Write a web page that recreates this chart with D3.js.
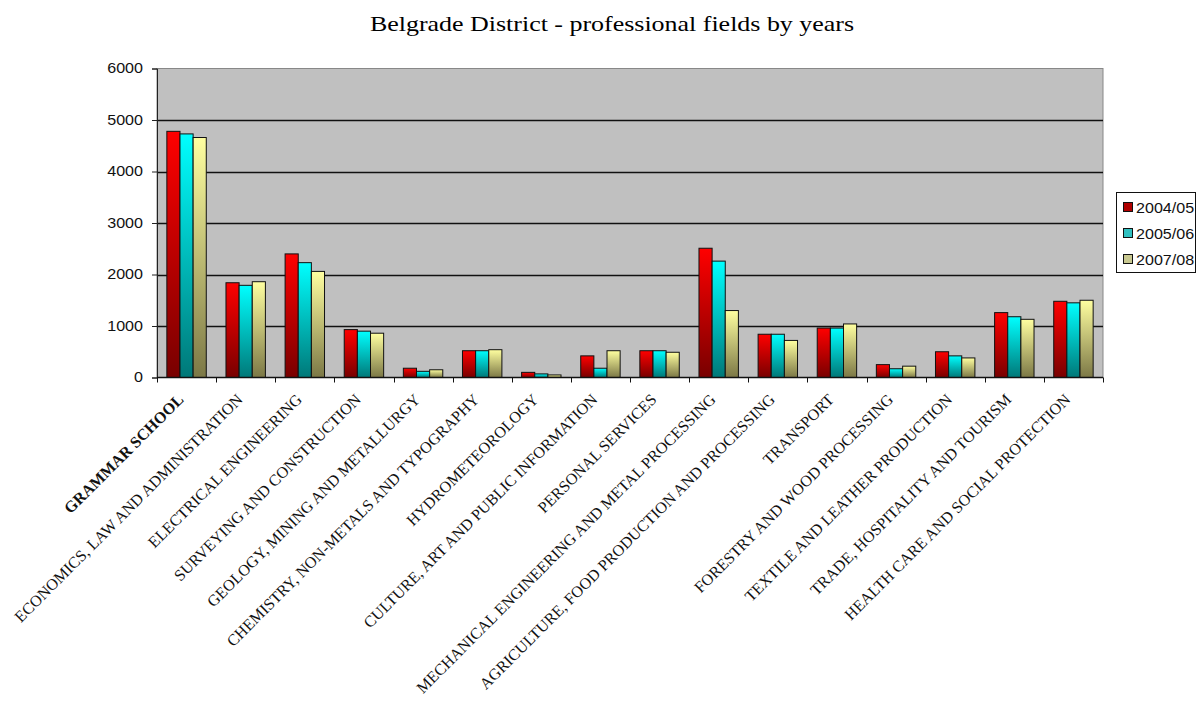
<!DOCTYPE html>
<html><head><meta charset="utf-8">
<script src="https://cdn.jsdelivr.net/npm/d3@7/dist/d3.min.js"></script>
<style>body{margin:0;background:#fff}svg{display:block}</style>
</head><body>
<svg id="chart" width="1196" height="702"></svg>
<script>
const categories = ["GRAMMAR SCHOOL","ECONOMICS, LAW AND ADMINISTRATION","ELECTRICAL ENGINEERING","SURVEYING AND CONSTRUCTION","GEOLOGY, MINING AND  METALLURGY","CHEMISTRY, NON-METALS AND TYPOGRAPHY","HYDROMETEOROLOGY","CULTURE, ART AND PUBLIC INFORMATION","PERSONAL SERVICES","MECHANICAL ENGINEERING AND METAL PROCESSING","AGRICULTURE, FOOD PRODUCTION AND PROCESSING","TRANSPORT","FORESTRY AND WOOD PROCESSING","TEXTILE AND LEATHER PRODUCTION","TRADE, HOSPITALITY AND TOURISM","HEALTH CARE AND SOCIAL PROTECTION"];
const seriesNames = ["2004/05","2005/06","2007/08"];
const values2004 = [4780,1840,2400,930,180,520,100,420,520,2510,840,960,250,500,1260,1480];
const values2005 = [4730,1790,2230,900,120,520,70,180,520,2260,840,960,170,420,1180,1450];
const values2007 = [4660,1860,2060,860,150,540,50,520,490,1300,720,1040,220,380,1130,1500];
const yTicks = [0,1000,2000,3000,4000,5000,6000];
const title = "Belgrade District - professional fields by years";

const seriesValues = [values2004, values2005, values2007];
const topColors = ["#ff0000","#00ffff","#ffffa0"];
const bottomColors = ["#780000","#007878","#7c7846"];
const swatchColors = ["#b00000","#30c0c0","#c8c890"];

const svg = d3.select("#chart");
const L = 157, R = 1103, T = 68.5, B = 377.5;

const x0 = d3.scaleBand().domain(categories).range([L, R]).paddingInner(0).paddingOuter(0);
const x1 = d3.scaleBand().domain(seriesNames).range([0, x0.bandwidth()]).paddingInner(0).paddingOuter(0.75);
const y = d3.scaleLinear().domain([0, 6000]).range([B, T]);

const defs = svg.append("defs");
seriesNames.forEach((s, i) => {
  const g = defs.append("linearGradient").attr("id", "g" + i)
    .attr("x1", 0).attr("y1", 0).attr("x2", 0).attr("y2", 1);
  g.append("stop").attr("offset", "0%").attr("stop-color", topColors[i]);
  g.append("stop").attr("offset", "100%").attr("stop-color", bottomColors[i]);
});

// title
svg.append("text").attr("transform", "translate(612,31) scale(1.18,1)").attr("text-anchor", "middle")
  .attr("font-family", "Liberation Serif").attr("font-size", 22).attr("fill", "#000").text(title);

// plot background
svg.append("rect").attr("x", L).attr("y", T).attr("width", R - L).attr("height", B - T)
  .attr("fill", "#c0c0c0").attr("stroke", "#888").attr("stroke-width", 1);

// gridlines
svg.append("g").selectAll("line").data(yTicks.filter(d => d > 0 && d < 6000)).join("line")
  .attr("x1", L).attr("x2", R).attr("y1", d => Math.round(y(d)) + 0.5).attr("y2", d => Math.round(y(d)) + 0.5)
  .attr("stroke", "#111").attr("stroke-width", 1.3);

// bars
const groups = svg.append("g").selectAll("g").data(categories).join("g")
  .attr("transform", d => `translate(${x0(d)},0)`);
groups.selectAll("rect").data((d, ci) => seriesNames.map((s, si) => ({s, si, v: seriesValues[si][ci]}))).join("rect")
  .attr("x", d => x1(d.s)).attr("width", x1.bandwidth())
  .attr("y", d => y(d.v)).attr("height", d => y(0) - y(d.v))
  .attr("fill", d => `url(#g${d.si})`).attr("stroke", "#111").attr("stroke-width", 1);

// y axis
const yAxis = d3.axisLeft(y).tickValues(yTicks).tickSize(5).tickPadding(9).tickFormat(d3.format("d"));
const ya = svg.append("g").attr("transform", `translate(${L},0)`).call(yAxis);
ya.select(".domain").attr("stroke", "#222");
ya.selectAll(".tick line").attr("stroke", "#222");
ya.selectAll("text").attr("font-family", "Liberation Sans").attr("font-size", 14).attr("fill", "#111")
  .attr("transform", "translate(-14,0) scale(1.15,1) translate(14,0)");

// x axis line and ticks at boundaries
svg.append("line").attr("x1", L).attr("x2", R).attr("y1", B).attr("y2", B).attr("stroke", "#111").attr("stroke-width", 1.3);
const bounds = categories.map(c => x0(c)).concat([R]);
svg.append("g").selectAll("line").data(bounds).join("line")
  .attr("x1", d => Math.round(d) + 0.5).attr("x2", d => Math.round(d) + 0.5).attr("y1", B).attr("y2", B + 5)
  .attr("stroke", "#111");

// category labels
svg.append("g").selectAll("text").data(categories).join("text")
  .attr("transform", d => `translate(${x0(d) + x0.bandwidth() / 2 - 2},${B + 23}) rotate(-45)`)
  .attr("text-anchor", "end")
  .attr("font-family", "Liberation Serif").attr("font-size", 16)
  .attr("font-weight", (d, i) => i === 0 ? "bold" : "normal")
  .attr("fill", "#111").text(d => d);

// legend
const lg = svg.append("g");
lg.append("rect").attr("x", 1116.5).attr("y", 192.5).attr("width", 79).attr("height", 80)
  .attr("fill", "#fff").attr("stroke", "#111");
seriesNames.forEach((s, i) => {
  const cy = 207 + i * 26;
  lg.append("rect").attr("x", 1123.5).attr("y", cy - 4.5).attr("width", 9).attr("height", 9)
    .attr("fill", swatchColors[i]).attr("stroke", "#111");
  lg.append("text").attr("transform", `translate(1136,${cy + 5.5}) scale(1.15,1)`).attr("font-family", "Liberation Sans")
    .attr("font-size", 14).attr("fill", "#111").text(s);
});
</script>
</body></html>
